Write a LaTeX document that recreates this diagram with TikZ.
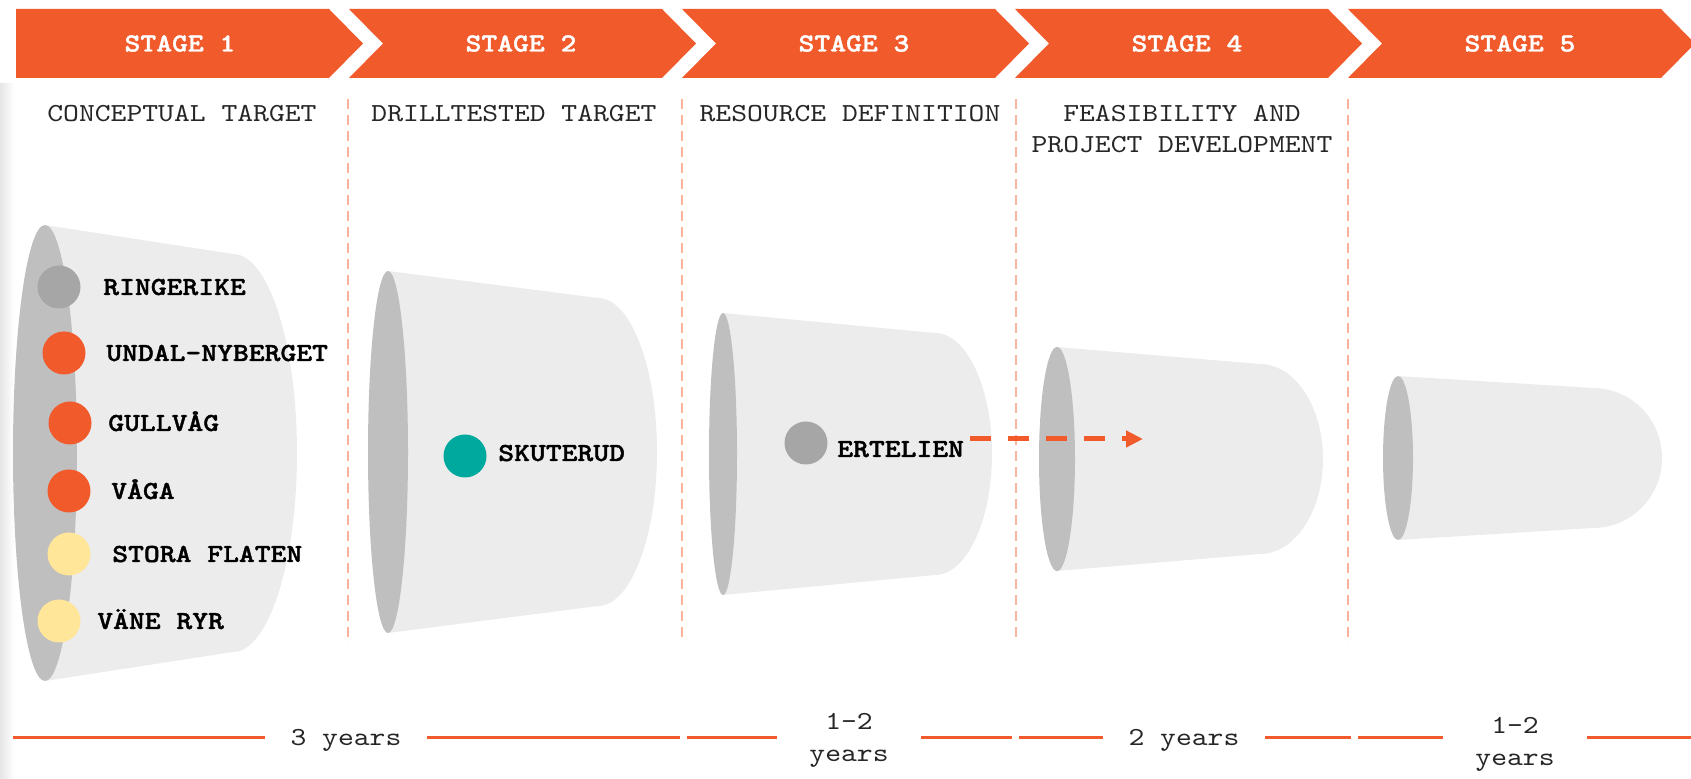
\documentclass[tikz,border=0pt]{standalone}
\usepackage{fontspec}
\setmonofont{lmmono10-regular.otf}[FakeStretch=1.16, BoldFont=lmmonolt10-bold.otf, BoldFeatures={FakeBold=1.4}]
\usetikzlibrary{positioning, arrows.meta}

\definecolor{stageorange}{HTML}{F15A2B}
\definecolor{sepsalmon}{HTML}{F9B49C}
\definecolor{conelight}{HTML}{ECECEC}
\definecolor{conedark}{HTML}{BFBFBF}
\definecolor{dotgray}{HTML}{A6A6A6}
\definecolor{dotyellow}{HTML}{FFE699}
\definecolor{dotteal}{HTML}{00A99D}

% funnel: centre x, centre y, rim rx, rim ry, end x, end half height, end round
\newcommand{\funnel}[7]{%
  \fill[conelight] (#1,#2-#4) -- (#5,#2-#6)
    arc[start angle=-90, end angle=90, x radius=#7, y radius=#6]
    -- (#1,#2+#4) -- cycle;
  \fill[conedark] (#1,#2) ellipse[x radius=#3, y radius=#4];
}

\tikzset{
  chev/.style={fill=stageorange},
  stagetxt/.style={text=white, font=\fontsize{13}{15.5}\selectfont\ttfamily\bfseries,
    text height=8pt, text depth=0pt, inner sep=0pt},
  phase/.style={font=\fontsize{13}{15.5}\selectfont\ttfamily, text=black!85, inner sep=0pt},
  sepline/.style={sepsalmon, line width=1pt, dash pattern=on 5pt off 3pt},
  dot/.style={circle, minimum size=21.5pt, inner sep=0pt},
  lbl/.style={font=\fontsize{13}{15.5}\selectfont\ttfamily\bfseries, inner sep=0pt,
    text height=8pt, text depth=0pt},
  moveline/.style={stageorange, line width=2.5pt, dash pattern=on 10.5pt off 8.5pt,
    -{Triangle[length=8.5pt, width=8pt]}},
  tline/.style={stageorange, line width=1.5pt},
  yrs/.style={font=\fontsize{13}{16}\selectfont\ttfamily, text=black!85,
    inner xsep=12.5pt, inner ysep=0pt},
}

\begin{document}
\begin{tikzpicture}[x=0.5pt, y=-0.5pt]
  \useasboundingbox (0,0) rectangle (1691,779);
  \shade[left color=black!10, right color=white] (0,84) rectangle (14,779);

  % banner
  \fill[chev] (16,9) -- (329,9) -- (363,43.5) -- (329,78) -- (16,78) -- cycle;
  \foreach \x in {349,682,1015,1348}
    \fill[chev] (\x,9) -- ++(313,0) -- ++(34,34.5) -- ++(-34,34.5) -- ++(-313,0) -- ++(34,-34.5) -- cycle;
  \node[stagetxt] (stage1) at (180,43.5) {STAGE 1};
  \foreach \i/\x in {2/521,3/854,4/1187,5/1520}
    \node[stagetxt] (stage\i) at (\x,43.5) {STAGE \i};

  % separators
  \foreach \x in {348,682,1016,1348}
    \draw[sepline] (\x,99) -- (\x,643);

  % phases
  \node[phase, text height=8pt, text depth=0pt] (concept) at (182,114) {CONCEPTUAL TARGET};
  \node[phase, text height=8pt, text depth=0pt] (drilled) at (514,114) {DRILLTESTED TARGET};
  \node[phase, text height=8pt, text depth=0pt] (resource) at (850,114) {RESOURCE DEFINITION};
  \node[phase, align=center] (feasible) at (1182,129) {FEASIBILITY AND\\PROJECT DEVELOPMENT};

  % funnels
  \funnel{45}{453}{32}{228}{233}{199}{64}
  \funnel{388}{452}{20}{181}{598}{154}{59}
  \funnel{723}{454}{14}{141}{935}{121}{57}
  \funnel{1057}{459}{18}{112}{1260}{95}{63}
  \funnel{1398}{458}{15}{82}{1593}{70}{69}

  % projects
  \node[dot, fill=dotgray] (ringerike) at (59,287) {};
  \node[lbl, right=11pt of ringerike] (ringerikeL) {RINGERIKE};
  \node[dot, fill=stageorange] (undal) at (64,353) {};
  \node[lbl, right=10pt of undal] (undalL) {UNDAL-NYBERGET};
  \node[dot, fill=stageorange] (gullvag) at (70,423) {};
  \node[lbl, right=8pt of gullvag] (gullvagL) {GULLVÅG};
  \node[dot, fill=stageorange] (vaga) at (69,491) {};
  \node[lbl, right=10pt of vaga] (vagaL) {VÅGA};
  \node[dot, fill=dotyellow] (stora) at (69,554) {};
  \node[lbl, right=10.5pt of stora] (storaL) {STORA FLATEN};
  \node[dot, fill=dotyellow] (vane) at (59,621) {};
  \node[lbl, right=8pt of vane] (vaneL) {VÄNE RYR};

  \node[dot, fill=dotteal] (skuterud) at (465,456) {};
  \node[lbl, right=5.5pt of skuterud, yshift=1.5pt] (skuterudL) {SKUTERUD};

  \node[dot, fill=dotgray] (ertelien) at (806,443) {};
  \node[lbl, right=4.5pt of ertelien, yshift=-3pt] (ertelienL) {ERTELIEN};

  \coordinate (moveEnd) at (1143,439);
  \draw[moveline] ([xshift=3pt]ertelienL.east |- moveEnd) -- (moveEnd);

  % timeline
  \node[yrs, text height=8pt, text depth=0pt] (yrsA) at (346,737) {3 years};
  \node[yrs, align=center, inner xsep=16pt] (yrsB) at (849,740) {1-2\\years};
  \node[yrs, text height=8pt, text depth=0pt] (yrsC) at (1184,737) {2 years};
  \node[yrs, align=center, inner xsep=16pt] (yrsD) at (1515,744) {1-2\\years};

  \coordinate (tA0) at (13,737);   \coordinate (tA1) at (680,737);
  \coordinate (tB0) at (687,737);  \coordinate (tB1) at (1012,737);
  \coordinate (tC0) at (1019,737); \coordinate (tC1) at (1351,737);
  \coordinate (tD0) at (1358,737); \coordinate (tD1) at (1691,737);
  \draw[tline] (tA0) -- (yrsA.west |- tA0) (yrsA.east |- tA0) -- (tA1);
  \draw[tline] (tB0) -- (yrsB.west |- tB0) (yrsB.east |- tB0) -- (tB1);
  \draw[tline] (tC0) -- (yrsC.west |- tC0) (yrsC.east |- tC0) -- (tC1);
  \draw[tline] (tD0) -- (yrsD.west |- tD0) (yrsD.east |- tD0) -- (tD1);
\end{tikzpicture}
\end{document}
